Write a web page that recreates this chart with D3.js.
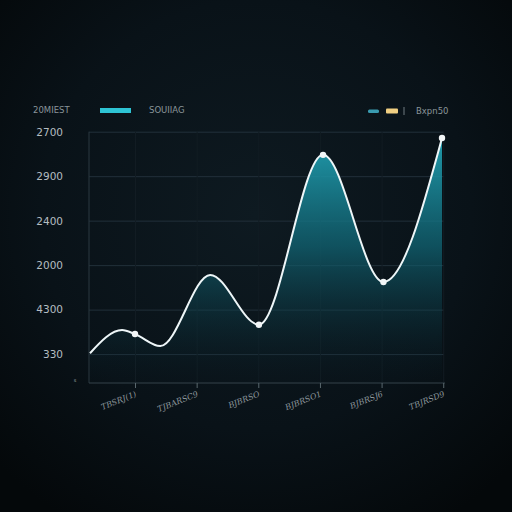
<!DOCTYPE html>
<html>
<head>
<meta charset="utf-8">
<script src="https://cdn.jsdelivr.net/npm/d3@7"></script>
<style>
  html, body { margin: 0; padding: 0; background: #070c10; }
  svg { display: block; }
  .tick text { font-family: 'DejaVu Sans', sans-serif; }
</style>
</head>
<body>
<svg width="512" height="512"></svg>
<script>
'use strict'

// data
const xPos = [0.27, 0.79, 1, 1.41, 2.22, 3.01, 4.05, 5.03, 5.98]
const values = [510, 770, 725, 590, 1390, 830, 2740, 1310, 2930]
const marked = [false, false, true, false, false, true, true, true, true]
const xTicks = [1, 2, 3, 4, 5, 6]
const xLabels = ['TBSRJ(1)', 'TJBARSC9', 'BJBRSO', 'BJBRSO1', 'BJBRSJ6', 'TBJRSD9']
const yTicks = [500, 1000, 1500, 2000, 2500, 3000]
const yLabels = ['330', '4300', '2000', '2400', '2900', '2700']
const legendLeft = ['20MIEST', 'SOUIIAG']
const legendRight = 'Bxpn50'

const svg = d3.select('svg')

const defs = svg.append('defs')
const bg = defs.append('radialGradient').attr('id', 'bg')
    .attr('cx', '50%').attr('cy', '42%').attr('r', '70%')
bg.append('stop').attr('offset', '0%').attr('stop-color', '#0e1a21')
bg.append('stop').attr('offset', '60%').attr('stop-color', '#091218')
bg.append('stop').attr('offset', '100%').attr('stop-color', '#04080a')

const fill = defs.append('linearGradient').attr('id', 'fill')
    .attr('gradientUnits', 'userSpaceOnUse')
    .attr('x1', 0).attr('y1', 135).attr('x2', 0).attr('y2', 383)
fill.append('stop').attr('offset', '0%').attr('stop-color', '#22a6b8').attr('stop-opacity', 0.95)
fill.append('stop').attr('offset', '45%').attr('stop-color', '#116a7a').attr('stop-opacity', 0.7)
fill.append('stop').attr('offset', '100%').attr('stop-color', '#0a1d26').attr('stop-opacity', 0.05)

svg.append('rect').attr('width', 512).attr('height', 512).attr('fill', 'url(#bg)')

const pLeft = 89, pRight = 444, pTop = 131.7, pBottom = 383

const xScale = d3.scaleLinear()
    .domain([0.27, 5.98])
    .range([90, 442])

const yScale = d3.scaleLinear()
    .domain([175, 3000])
    .range([pBottom, pTop])

// horizontal grid
svg.append('g')
    .attr('transform', `translate(${pLeft}, 0)`)
    .call(d3.axisLeft(yScale).tickValues(yTicks).tickSize(-(pRight - pLeft)).tickFormat(''))
    .call(g => g.select('.domain').remove())
    .call(g => g.selectAll('line').attr('stroke', '#22303a').attr('stroke-width', 1))

// faint vertical grid
svg.append('g')
    .attr('transform', `translate(0, ${pBottom})`)
    .call(d3.axisBottom(xScale).tickValues(xTicks).tickSize(-(pBottom - pTop)).tickFormat(''))
    .call(g => g.select('.domain').remove())
    .call(g => g.selectAll('line').attr('stroke', '#121c23').attr('stroke-width', 1))

// left border
svg.append('line')
    .attr('x1', pLeft).attr('x2', pLeft).attr('y1', pTop).attr('y2', pBottom)
    .attr('stroke', '#2a3840')

// y labels
svg.append('g')
    .attr('transform', `translate(${pLeft}, 0)`)
    .call(d3.axisLeft(yScale).tickValues(yTicks).tickSize(0).tickPadding(26)
        .tickFormat((d, i) => yLabels[i]))
    .call(g => g.select('.domain').remove())
    .call(g => g.selectAll('text').attr('fill', '#b4bdc1').attr('font-size', 10.5))

svg.append('text')
    .attr('x', 75).attr('y', 382)
    .attr('text-anchor', 'middle')
    .attr('fill', '#9aa4a8').attr('font-size', 5)
    .attr('font-family', 'DejaVu Sans, sans-serif')
    .text('s')

const pts = xPos.map((x, i) => ({ x: x, v: values[i], m: marked[i] }))

const area = d3.area()
    .x(d => xScale(d.x))
    .y0(pBottom)
    .y1(d => yScale(d.v))
    .curve(d3.curveMonotoneX)

const line = d3.line()
    .x(d => xScale(d.x))
    .y(d => yScale(d.v))
    .curve(d3.curveMonotoneX)

svg.append('path').datum(pts)
    .attr('d', area)
    .attr('fill', 'url(#fill)')

svg.append('path').datum(pts)
    .attr('d', line)
    .attr('fill', 'none')
    .attr('stroke', '#eef6f8')
    .attr('stroke-width', 2)

svg.selectAll('.dot')
    .data(pts.filter(d => d.m))
    .enter()
    .append('circle')
    .attr('class', 'dot')
    .attr('cx', d => xScale(d.x))
    .attr('cy', d => yScale(d.v))
    .attr('r', 3.2)
    .attr('fill', '#f2f6f7')

// bottom axis
svg.append('g')
    .attr('transform', `translate(0, ${pBottom})`)
    .call(d3.axisBottom(xScale).tickValues(xTicks).tickSize(5).tickFormat(''))
    .call(g => g.select('.domain').attr('d', `M${pLeft},0H${pRight + 1}`).attr('stroke', '#34434b'))
    .call(g => g.selectAll('line').attr('stroke', '#5a686e'))

svg.append('g')
    .selectAll('text')
    .data(xTicks)
    .enter()
    .append('text')
    .attr('transform', d => `translate(${xScale(d) + 2}, ${pBottom + 13}) rotate(-22)`)
    .attr('text-anchor', 'end')
    .attr('fill', '#8e989d')
    .attr('font-size', 8)
    .attr('font-style', 'italic')
    .attr('font-family', 'DejaVu Serif, serif')
    .text((d, i) => xLabels[i])

// legend
const lg = svg.append('g').attr('font-family', 'DejaVu Sans, sans-serif')
    .attr('font-size', 8.5).attr('fill', '#8a959a')
lg.append('text').attr('x', 33).attr('y', 113).text(legendLeft[0])
lg.append('rect').attr('x', 100).attr('y', 108).attr('width', 31).attr('height', 5)
    .attr('fill', '#2ec4d4')
lg.append('text').attr('x', 149).attr('y', 113).text(legendLeft[1])

lg.append('rect').attr('x', 368).attr('y', 109.5).attr('width', 11).attr('height', 3.5)
    .attr('rx', 1.5).attr('fill', '#3a9bb0')
lg.append('rect').attr('x', 386).attr('y', 108.5).attr('width', 12).attr('height', 5)
    .attr('rx', 1).attr('fill', '#f0cf82')
lg.append('line').attr('x1', 404).attr('x2', 404).attr('y1', 107).attr('y2', 115)
    .attr('stroke', '#6f7a80')
lg.append('text').attr('x', 416).attr('y', 114).text(legendRight)
</script>
</body>
</html>
